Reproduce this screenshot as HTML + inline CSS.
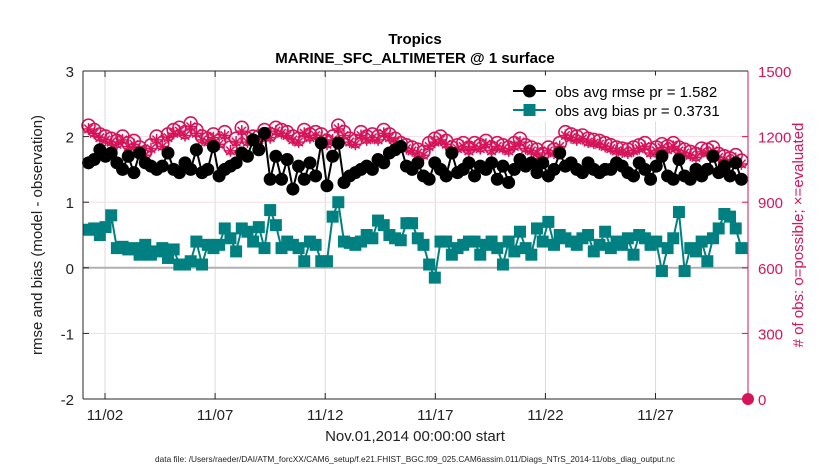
<!DOCTYPE html>
<html><head><meta charset="utf-8"><style>
body{margin:0;background:#fff;font-family:"Liberation Sans",sans-serif}
svg text{font-family:"Liberation Sans",sans-serif}
</style></head><body>
<svg id="chart" width="830" height="470" xmlns="http://www.w3.org/2000/svg">
<rect width="830" height="470" fill="#fff"/>
<g id="grid"></g>
<g id="marks"></g>
<g id="axes"></g>
<text x="415" y="44" text-anchor="middle" font-size="15" font-weight="bold">Tropics</text>
<text x="415" y="63" text-anchor="middle" font-size="15" font-weight="bold">MARINE_SFC_ALTIMETER @ 1 surface</text>
<text x="415" y="441" text-anchor="middle" font-size="15" fill="#222">Nov.01,2014 00:00:00 start</text>
<text transform="translate(42,235) rotate(-90)" text-anchor="middle" font-size="15" fill="#222">rmse and bias (model - observation)</text>
<text transform="translate(803,235) rotate(-90)" text-anchor="middle" font-size="15" fill="#d6145a"># of obs: o=possible; ×=evaluated</text>
<text x="415" y="462" text-anchor="middle" font-size="8.3" fill="#222">data file: /Users/raeder/DAI/ATM_forcXX/CAM6_setup/f.e21.FHIST_BGC.f09_025.CAM6assim.011/Diags_NTrS_2014-11/obs_diag_output.nc</text>
<g>
<rect x="508" y="76" width="234" height="45" fill="#fff" stroke="#fff"/>
<line x1="513" y1="91" x2="546" y2="91" stroke="#000" stroke-width="2"/>
<circle cx="529.5" cy="91" r="6.5" fill="#000"/>
<text x="555" y="97" font-size="15">obs avg rmse pr = 1.582</text>
<line x1="513" y1="110" x2="546" y2="110" stroke="#008080" stroke-width="2"/>
<rect x="523.5" y="104" width="12" height="12" fill="#008080"/>
<text x="555" y="116" font-size="15">obs avg bias pr = 0.3731</text>
</g>
</svg>
<script>
const rmse=[1.6,1.65,1.8,1.7, 1.75,1.6,1.5,1.7, 1.45,1.75,1.6,1.55, 1.5,1.55,1.75,1.5, 1.45,1.6,1.5,1.8, 1.45,1.5,1.85,1.4, 1.5,1.55,1.6,1.75, 1.7,1.95,1.8,2.05, 1.35,1.7,1.35,1.65, 1.2,1.55,1.35,1.6, 1.4,1.9,1.25,1.7, 1.9,1.3,1.4,1.45, 1.5,1.55,1.5,1.65, 1.6,1.75,1.8,1.85, 1.55,1.5,1.6,1.4, 1.35,1.6,1.5,1.4, 1.75,1.45,1.5,1.6, 1.4,1.55,1.5,1.6, 1.35,1.55,1.3,1.5, 1.65,1.55,1.6,1.45, 1.6,1.4,1.5,1.75, 1.55,1.6,1.5,1.45, 1.6,1.5,1.45,1.5, 1.5,1.6,1.55,1.45, 1.4,1.6,1.5,1.35, 1.55,1.7,1.4,1.35, 1.65,1.4,1.35,1.5, 1.4,1.5,1.7,1.45, 1.55,1.4,1.6,1.35];
const bias=[.58,.6,.5,.62, .8,.3,.32,.28, .3,.2,.35,.2, .25,.3,.15,.28, .05,.05,.1,.4, .05,.35,.3,.35, .6,.45,.25,.6, .55,.4,.62,.3, .88,.65,.3,.4, .35,.3,.1,.4, .35,.1,.1,.78, 1.0,.4,.38,.35, .4,.5,.45,.72, .65,.5,.45,.42, .68,.68,.45,.35, .05,-.15,.4,.4, .2,.3,.35,.4, .4,.2,.35,.4, .3,.05,.4,.25, .55,.3,.2,.6, .4,.7,.35,.5, .45,.4,.35,.45, .5,.25,.35,.55, .3,.4,.35,.45, .2,.5,.45,.35, .4,-.05,.3,.45, .85,-.05,.3,.25, .4,.1,.45,.6, .82,.78,.6,.3];
const possible=[1250,1230,1210,1200, 1190,1180,1200,1170, 1180,1150,1130,1160, 1200,1170,1210,1230, 1240,1220,1260,1230, 1200,1190,1210,1180, 1220,1150,1190,1240, 1190,1200,1200,1230, 1210,1240,1230,1220, 1200,1190,1230,1210, 1220,1210,1180,1200, 1250,1220,1190,1180, 1220,1200,1210,1200, 1230,1210,1190,1170, 1160,1150,1140,1130, 1170,1190,1200,1180, 1150,1160,1170,1150, 1170,1160,1180,1150, 1170,1160,1150,1170, 1190,1160,1150,1140, 1120,1150,1140,1170, 1220,1210,1200,1205, 1190,1185,1180,1170, 1160,1150,1145,1140, 1150,1160,1170,1140, 1150,1165,1155,1170, 1150,1140,1130,1120, 1145,1140,1150,1120, 1110,1100,1115,1090];
const evaluated=possible.map(v=>v-15);
const xTickLabels=["11/02","11/07","11/12","11/17","11/22","11/27"];
const xTickDays=[1,6,11,16,21,26];
const yLeftTicks=[-2,-1,0,1,2,3];
const yRightTicks=[0,300,600,900,1200,1500];
const firstDay=0.25, lastDay=29.9;

const L=83,R=748,T=71,B=399,NS="http://www.w3.org/2000/svg";
const xS=d=>L+(d/30.2)*(R-L);
const yL=v=>B-(v+2)/5*(B-T);
const yR=v=>B-v/1500*(B-T);
const dayOf=i=>firstDay+i*(lastDay-firstDay)/(rmse.length-1);
function mk(tag,attrs,parent){const e=document.createElementNS(NS,tag);for(const k in attrs)e.setAttribute(k,attrs[k]);parent.appendChild(e);return e;}
const grid=document.getElementById('grid'),marks=document.getElementById('marks'),axes=document.getElementById('axes');
xTickDays.forEach((d,i)=>{
  const g=mk('line',{x1:xS(d),x2:xS(d),y1:T,y2:B,stroke:'#dcdcdc','stroke-width':1},grid);
  
  
  mk('line',{x1:xS(d),x2:xS(d),y1:B,y2:B-6,stroke:'#262626'},axes);
  mk('line',{x1:xS(d),x2:xS(d),y1:T,y2:T+6,stroke:'#262626'},axes);
  const t=mk('text',{x:xS(d),y:B+21,'text-anchor':'middle','font-size':15,fill:'#222'},axes);
  t.textContent=xTickLabels[i];
  
  
});
yRightTicks.forEach(v=>{
  if(v>0&&v<1500){const g=mk('line',{x1:L,x2:R,y1:yR(v),y2:yR(v),stroke:'#f4dde6'},grid);
  
  }
  mk('line',{x1:R,x2:R-6,y1:yR(v),y2:yR(v),stroke:'#d6145a'},axes);
  const t=mk('text',{x:R+10,y:yR(v)+6,'font-size':15,fill:'#d6145a'},axes);
  t.textContent=v;
  
  
});
yLeftTicks.forEach(v=>{
  mk('line',{x1:L,x2:L+6,y1:yL(v),y2:yL(v),stroke:'#262626'},axes);
  const t=mk('text',{x:L-9,y:yL(v)+6,'text-anchor':'end','font-size':15,fill:'#222'},axes);
  t.textContent=v;
  
  
});
const zl=mk('line',{x1:L,x2:R,y1:yL(0),y2:yL(0),stroke:'#b0b0b0','stroke-width':2},grid);


mk('line',{x1:L,x2:R,y1:T,y2:T,stroke:'#262626'},axes);
mk('line',{x1:L,x2:R,y1:B,y2:B,stroke:'#262626'},axes);
mk('line',{x1:L,x2:L,y1:T,y2:B,stroke:'#262626'},axes);
mk('line',{x1:R,x2:R,y1:T,y2:B,stroke:'#d6145a'},axes);
function star(cx,cy,r,g){for(let k=0;k<4;k++){const a=k*Math.PI/4;mk('line',{x1:cx-r*Math.cos(a),y1:cy-r*Math.sin(a),x2:cx+r*Math.cos(a),y2:cy+r*Math.sin(a),stroke:'#d6145a','stroke-width':1.5},g);}}
const zm=mk('g',{},axes);


mk('circle',{cx:R,cy:B,r:6,fill:'#d6145a'},zm);
const gp=mk('g',{},marks);


possible.forEach((v,i)=>{const c=mk('circle',{cx:xS(dayOf(i)),cy:yR(v),r:6.5,fill:'none',stroke:'#d6145a','stroke-width':1.6},gp);
  
  });
const ge=mk('g',{},marks);


evaluated.forEach((v,i)=>star(xS(dayOf(i)),yR(v),6,ge));
const gr=mk('g',{},marks);


mk('polyline',{points:rmse.map((v,i)=>xS(dayOf(i))+','+yL(v)).join(' '),fill:'none',stroke:'#000','stroke-width':2},gr);
rmse.forEach((v,i)=>{const c=mk('circle',{cx:xS(dayOf(i)),cy:yL(v),r:6.5,fill:'#000'},gr);
  
  });
const gb=mk('g',{},marks);


mk('polyline',{points:bias.map((v,i)=>xS(dayOf(i))+','+yL(v)).join(' '),fill:'none',stroke:'#008080','stroke-width':2},gb);
bias.forEach((v,i)=>{const c=mk('rect',{x:xS(dayOf(i))-6,y:yL(v)-6,width:12,height:12,fill:'#008080'},gb);
  
  });
</script>
</body></html>
